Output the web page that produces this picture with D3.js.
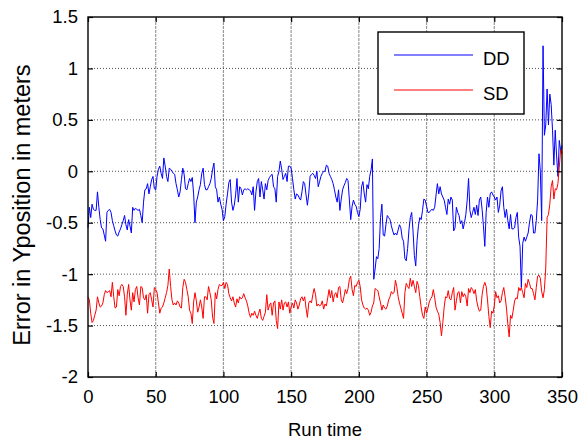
<!DOCTYPE html>
<html>
<head>
<meta charset="utf-8">
<script src="https://cdn.jsdelivr.net/npm/d3@7"></script>
<style>
  body { margin: 0; background: #fff; }
  text { font-family: "Liberation Sans", Arial, sans-serif; }
</style>
</head>
<body>
<div id="chart"></div>
<script>
// run time axis: one sample per time step, 0..350
var xTicks = [0, 50, 100, 150, 200, 250, 300, 350];
var yTicks = [-2, -1.5, -1, -0.5, 0, 0.5, 1, 1.5];
var yTickLabels = ['-2', '-1.5', '-1', '-0.5', '0', '0.5', '1', '1.5'];
var seriesNames = ['DD', 'SD'];

// error of DD, run time 0..350
var ddValues = [
  -0.55, -0.35, -0.45, -0.32, -0.37, -0.38, -0.38, -0.2, -0.35, -0.47,
  -0.55, -0.56, -0.62, -0.68, -0.4, -0.38, -0.37, -0.4, -0.48, -0.53,
  -0.58, -0.62, -0.63, -0.59, -0.56, -0.52, -0.48, -0.43, -0.52, -0.57,
  -0.47, -0.53, -0.6, -0.35, -0.38, -0.36, -0.37, -0.38, -0.37, -0.43,
  -0.5, -0.3, -0.18, -0.17, -0.12, -0.22, -0.15, -0.08, -0.05, -0.17,
  -0.18, -0.05, 0.02, 0.05, -0.02, -0.07, 0.13, 0.05, -0.05, -0.1,
  0.03, 0.02, 0.0, -0.02, -0.03, -0.12, -0.18, -0.25, -0.2, -0.08,
  0.03, -0.03, -0.17, -0.18, -0.12, -0.07, -0.1, -0.06, -0.22, -0.5,
  -0.3, -0.25, -0.18, -0.13, -0.02, 0.03, -0.13, -0.18, -0.18, -0.15,
  -0.12, -0.07, 0.02, 0.08, -0.15, -0.18, -0.3, -0.25, -0.32, -0.37,
  -0.48, -0.44, -0.32, -0.22, -0.11, -0.08, -0.3, -0.38, -0.33, -0.23,
  -0.07, -0.3, -0.15, -0.17, -0.23, -0.18, -0.17, -0.18, -0.17, -0.18,
  -0.19, -0.23, -0.15, -0.38, -0.2, -0.1, -0.07, -0.25, -0.1, -0.18,
  -0.27, -0.12, -0.18, -0.09, -0.06, -0.04, -0.03, -0.15, -0.17, -0.3,
  -0.05, 0.0, 0.1, 0.02, -0.08, -0.05, -0.02, -0.1, 0.05, 0.05,
  0.03, -0.07, -0.18, -0.27, -0.22, -0.23, -0.26, -0.28, -0.2, -0.1,
  -0.12, -0.23, -0.33, -0.22, -0.05, -0.03, -0.02, -0.04, -0.07, 0.0,
  -0.15, -0.1, -0.05, -0.02, 0.0, 0.0, 0.06, 0.05, -0.02, -0.05,
  -0.08, -0.12, -0.18, -0.25, -0.3, -0.18, -0.38, -0.27, -0.18, -0.14,
  -0.11, -0.07, -0.09, -0.28, -0.47, -0.34, -0.28, -0.32, -0.34, -0.4,
  -0.44, -0.37, -0.15, -0.1, -0.22, -0.3, -0.13, -0.17, -0.05, 0.01,
  0.12, -1.05, -0.95, -0.83, -0.85, -0.75, -0.45, -0.32, -0.62, -0.63,
  -0.52, -0.43, -0.45, -0.47, -0.53, -0.58, -0.62, -0.6, -0.62, -0.57,
  -0.52, -0.55, -0.65, -0.68, -0.85, -0.87, -0.75, -0.57, -0.45, -0.4,
  -0.58, -0.82, -0.92, -0.67, -0.53, -0.45, -0.47, -0.38, -0.27, -0.28,
  -0.34, -0.4, -0.4, -0.38, -0.37, -0.38, -0.35, -0.23, -0.12, -0.22,
  -0.15, -0.22, -0.25, -0.28, -0.35, -0.42, -0.27, -0.32, -0.25, -0.28,
  -0.58, -0.55, -0.35, -0.4, -0.43, -0.51, -0.48, -0.56, -0.5, -0.42,
  -0.28, -0.07, -0.38, -0.45, -0.4, -0.35, -0.42, -0.33, -0.43, -0.28,
  -0.25, -0.37, -0.53, -0.73, -0.4, -0.25, -0.35, -0.22, -0.2, -0.23,
  -0.25, -0.28, -0.25, -0.4, -0.33, -0.19, -0.15, -0.35, -0.45, -0.37,
  -0.48, -0.56, -0.42, -0.56, -0.56, -0.55, -0.45, -0.4, -0.64, -0.73,
  -1.13, -0.7, -0.64, -0.68, -0.64, -0.6, -0.5, -0.42, -0.43, -0.6,
  -0.6, -0.48, -0.28, 0.17, 0.0, -0.48, 1.22, 0.35, 0.45, 0.8,
  0.45, 0.75, 0.65, 0.4, 0.06, 0.4, 0.15, -0.05, 0.3, 0.2, 0.25
];

// error of SD, run time 0..350
var sdValues = [
  -1.22, -1.25, -1.38, -1.47, -1.45, -1.4, -1.35, -1.22, -1.28, -1.32,
  -1.31, -1.28, -1.2, -1.16, -1.18, -1.17, -1.16, -1.22, -1.08, -1.22,
  -1.33, -1.32, -1.15, -1.21, -1.12, -1.1, -1.12, -1.22, -1.4, -1.2,
  -1.1, -1.25, -1.35, -1.18, -1.27, -1.15, -1.12, -1.23, -1.3, -1.12,
  -1.13, -1.23, -1.25, -1.2, -1.38, -1.2, -1.18, -1.25, -1.32, -1.13,
  -1.15, -1.18, -1.28, -1.38, -1.33, -1.32, -1.28, -1.23, -1.18, -1.11,
  -0.95, -1.12, -1.25, -1.3, -1.28, -1.3, -1.26, -1.28, -1.32, -1.33,
  -1.13, -1.05, -1.08, -1.15, -1.22, -1.35, -1.38, -1.48, -1.27, -1.18,
  -1.26, -1.37, -1.32, -1.25, -1.32, -1.43, -1.22, -1.22, -1.25, -1.12,
  -1.18, -1.25, -1.42, -1.48, -1.18, -1.24, -1.15, -1.1, -1.11, -1.11,
  -1.08, -1.14, -1.08, -1.1, -1.19, -1.23, -1.26, -1.22, -1.28, -1.32,
  -1.24, -1.28, -1.22, -1.24, -1.23, -1.19, -1.23, -1.26, -1.31, -1.38,
  -1.42, -1.38, -1.4, -1.36, -1.4, -1.43, -1.38, -1.34, -1.43, -1.45,
  -1.41, -1.37, -1.2, -1.35, -1.3, -1.28, -1.4, -1.28, -1.26, -1.45,
  -1.53, -1.27, -1.34, -1.25, -1.35, -1.28, -1.27, -1.32, -1.27, -1.38,
  -1.32, -1.28, -1.33, -1.25, -1.28, -1.34, -1.3, -1.24, -1.22, -1.26,
  -1.22, -1.33, -1.42, -1.28, -1.26, -1.28, -1.2, -1.14, -1.2, -1.31,
  -1.29, -1.31, -1.3, -1.26, -1.34, -1.29, -1.31, -1.23, -1.15, -1.23,
  -1.16, -1.27, -1.2, -1.18, -1.23, -1.13, -1.12, -1.25, -1.28, -1.22,
  -1.15, -1.19, -1.14, -1.05, -1.02, -1.15, -1.21, -1.11, -1.12, -1.08,
  -1.06, -1.12, -1.25, -1.3, -1.33, -1.34, -1.33, -1.35, -1.4, -1.37,
  -1.31, -1.28, -1.14, -1.15, -1.16, -1.22, -1.28, -1.35, -1.3, -1.33,
  -1.34, -1.31, -1.25, -1.22, -1.17, -1.19, -1.18, -1.06, -1.12, -1.22,
  -1.28, -1.33, -1.38, -1.43, -1.18, -1.09, -1.12, -1.14, -1.04, -1.12,
  -1.06, -1.12, -1.18, -1.07, -1.11, -1.22, -1.32, -1.4, -1.43, -1.32,
  -1.38, -1.33, -1.27, -1.24, -1.22, -1.15, -1.23, -1.32, -1.36, -1.39,
  -1.47, -1.6, -1.47, -1.32, -1.22, -1.23, -1.16, -1.24, -1.25, -1.18,
  -1.13, -1.35, -1.26, -1.18, -1.17, -1.28, -1.17, -1.22, -1.19, -1.22,
  -1.31, -1.14, -1.18, -1.13, -1.15, -1.19, -1.15, -1.26, -1.32, -1.36,
  -1.35, -1.2, -1.12, -1.08, -1.12, -1.25, -1.41, -1.52, -1.36, -1.38,
  -1.31, -1.17, -1.23, -1.21, -1.28, -1.26, -1.18, -1.13, -1.22, -1.33,
  -1.49, -1.61, -1.4, -1.43, -1.35, -1.26, -1.23, -1.24, -1.13, -1.16,
  -1.13, -1.18, -1.23, -1.09, -1.13, -1.05, -1.09, -1.14, -1.14, -1.19,
  -1.25, -1.13, -1.02, -1.01, -1.04, -1.17, -1.23, -1.15, -0.94, -0.45,
  -0.42, -0.32, -0.15, -0.09, -0.27, -0.17, -0.18, -0.12, 0.04, 0.21, 0.17
];

var width = 580, height = 442;
var margin = { top: 17, right: 18, bottom: 65, left: 88 };
var plotW = width - margin.left - margin.right;
var plotH = height - margin.top - margin.bottom;

var svg = d3.select('#chart').append('svg')
    .attr('width', width)
    .attr('height', height);

var x = d3.scaleLinear().domain([0, 350]).range([margin.left, margin.left + plotW]);
var y = d3.scaleLinear().domain([-2, 1.5]).range([margin.top + plotH, margin.top]);

// grid
var grid = svg.append('g');
grid.selectAll('line.vgrid')
    .data(xTicks.slice(1, -1))
    .enter().append('line')
    .attr('class', 'vgrid')
    .attr('x1', function(d) { return x(d); })
    .attr('x2', function(d) { return x(d); })
    .attr('y1', y(-2)).attr('y2', y(1.5))
    .attr('stroke', '#999')
    .attr('stroke-width', 1.2)
    .attr('stroke-dasharray', '3,1');
grid.selectAll('line.hgrid')
    .data(yTicks.slice(1, -1))
    .enter().append('line')
    .attr('class', 'hgrid')
    .attr('x1', x(0)).attr('x2', x(350))
    .attr('y1', function(d) { return y(d); })
    .attr('y2', function(d) { return y(d); })
    .attr('stroke', '#222')
    .attr('stroke-width', 0.8)
    .attr('stroke-dasharray', '1,2');

// series
var line = d3.line()
    .x(function(d, i) { return x(i); })
    .y(function(d) { return y(d); });

svg.append('path')
    .datum(ddValues)
    .attr('d', line)
    .attr('fill', 'none')
    .attr('stroke', '#0000ff')
    .attr('stroke-width', 1);

svg.append('path')
    .datum(sdValues)
    .attr('d', line)
    .attr('fill', 'none')
    .attr('stroke', '#ff0000')
    .attr('stroke-width', 1);

// axes, ticks point inward
var fmtY = function(d) { return yTickLabels[yTicks.indexOf(d)]; };

svg.append('g')
    .attr('transform', 'translate(0,' + y(-2) + ')')
    .call(d3.axisBottom(x).tickValues(xTicks).tickSize(-5).tickPadding(13).tickFormat(d3.format('d')));
svg.append('g')
    .attr('transform', 'translate(0,' + y(1.5) + ')')
    .call(d3.axisTop(x).tickValues(xTicks).tickSize(-5).tickFormat(''));
svg.append('g')
    .attr('transform', 'translate(' + x(0) + ',0)')
    .call(d3.axisLeft(y).tickValues(yTicks).tickSize(-5).tickPadding(10).tickFormat(fmtY));
svg.append('g')
    .attr('transform', 'translate(' + x(350) + ',0)')
    .call(d3.axisRight(y).tickValues(yTicks).tickSize(-5).tickFormat(''));

svg.selectAll('.domain').remove();
svg.selectAll('.tick line').attr('stroke', '#000').attr('stroke-width', 1.2);
svg.selectAll('.tick text')
    .style('font-size', '18.5px')
    .attr('fill', '#000');

svg.append('rect')
    .attr('x', x(0)).attr('y', y(1.5))
    .attr('width', plotW).attr('height', plotH)
    .attr('fill', 'none')
    .attr('stroke', '#000')
    .attr('stroke-width', 1.4);

// axis titles
svg.append('text')
    .attr('x', margin.left + plotW / 2)
    .attr('y', 436)
    .attr('text-anchor', 'middle')
    .style('font-size', '18.5px')
    .text('Run time');

svg.append('text')
    .attr('transform', 'translate(30,' + (margin.top + plotH / 2 + 8) + ') rotate(-90)')
    .attr('text-anchor', 'middle')
    .style('font-size', '23.5px')
    .text('Error in Yposition in meters');

// legend
var legend = svg.append('g').attr('transform', 'translate(378,32)');
legend.append('rect')
    .attr('width', 146).attr('height', 82)
    .attr('fill', '#fff')
    .attr('stroke', '#000')
    .attr('stroke-width', 1.4);
var legendColors = ['#0000ff', '#ff0000'];
seriesNames.forEach(function(name, i) {
    legend.append('line')
        .attr('x1', 16).attr('x2', 95)
        .attr('y1', 23 + i * 35).attr('y2', 23 + i * 35)
        .attr('stroke', legendColors[i])
        .attr('stroke-width', 1);
    legend.append('text')
        .attr('x', 105)
        .attr('y', 33 + i * 35)
        .style('font-size', '18.5px')
        .text(name);
});
</script>
</body>
</html>
